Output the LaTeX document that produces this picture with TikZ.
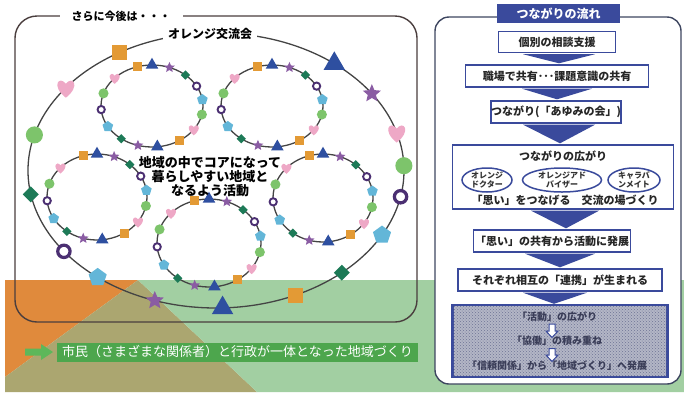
\documentclass[tikz,border=0pt]{standalone}
\usepackage{fontspec}
\setmainfont{Noto Sans CJK JP}
\usetikzlibrary{shapes.geometric,patterns,calc}

\definecolor{cOrBg}{HTML}{E08A3C}
\definecolor{cOlBg}{HTML}{ABA670}
\definecolor{cGrBg}{HTML}{A2CFA2}
\definecolor{cBan}{HTML}{4DA64D}
\definecolor{cArr}{HTML}{5DB75A}
\definecolor{cFrame}{HTML}{4A3E3E}
\definecolor{cRing}{HTML}{444444}
\definecolor{mOr}{HTML}{E39A35}
\definecolor{mBl}{HTML}{2E4FA0}
\definecolor{mPu}{HTML}{8A5CA3}
\definecolor{mDg}{HTML}{1D7A57}
\definecolor{mDp}{HTML}{4B2F72}
\definecolor{mLb}{HTML}{63B6D8}
\definecolor{mGr}{HTML}{7DC46B}
\definecolor{mPk}{HTML}{EEA8C6}
\definecolor{fBlue}{HTML}{3A4A9C}
\definecolor{fPanel}{HTML}{3E4660}
\definecolor{hatchBg}{HTML}{B3B6C6}
\definecolor{hatchDot}{HTML}{6E7494}
\definecolor{hatchTxt}{HTML}{3A3D58}

\def\ms{1}
\def\hrtname{ht}
\tikzset{
  mk-sq/.style={rectangle,fill=mOr,minimum size={8pt*\ms},inner sep=0pt},
  mk-tri/.style={regular polygon,regular polygon sides=3,fill=mBl,minimum size={13pt*\ms},inner sep=0pt},
  mk-st/.style={star,star points=5,star point ratio=2.2,fill=mPu,minimum size={10pt*\ms},inner sep=0pt},
  mk-dia/.style={diamond,fill=mDg,minimum size={8.5pt*\ms},inner sep=0pt},
  mk-ho/.style={circle,draw=mDp,line width={1.7pt*\ms},fill=white,minimum size={6.5pt*\ms},inner sep=0pt},
  mk-pen/.style={regular polygon,regular polygon sides=5,fill=mLb,minimum size={10pt*\ms},inner sep=0pt},
  mk-gc/.style={circle,fill=mGr,minimum size={9pt*\ms},inner sep=0pt},
  heart/.pic={\fill[mPk] (0,-0.3) .. controls (0.5,-0.95) and (1.15,-0.15) .. (0,0.75) .. controls (-1.15,-0.15) and (-0.5,-0.95) .. (0,-0.3);},
  ring/.style={draw=cRing,line width=1.3pt},
  flowbox/.style={draw=fBlue,line width=1.8pt,fill=white,inner sep=0pt,font=\fontsize{11}{13}\selectfont\bfseries,text=black!85},
  chev/.style={fill=fBlue},
  oval/.style={ellipse,draw=fBlue,line width=1.5pt,inner sep=0pt,align=center,font=\fontsize{8}{9.5}\selectfont\bfseries,text=black!80},
  hatchtxt/.style={font=\fontsize{10}{12}\selectfont\bfseries,text=hatchTxt,inner sep=1pt},
  hollowarrow/.style={draw=fBlue,line width=1pt,fill=white},
}

\newcommand\ringmarks[6]{%
  \foreach \kind/\ang [count=\k] in {#6}{%
    \coordinate (#1-\k) at ({#2+#4*cos(\ang)},{#3-#5*sin(\ang)});
    \edef\mytmp{\kind}%
    \ifx\mytmp\hrtname
      \pic[scale={7*\ms}] at (#1-\k) {heart};
    \else
      \edef\mydo{\noexpand\node[mk-\kind] (#1-m\k) at (#1-\k) {};}%
      \mydo
    \fi}}

\begin{document}
\begin{tikzpicture}[x=1pt,y=-1pt]
\useasboundingbox (0,0) rectangle (684,392);
% background
\fill[cOrBg] (5,280) -- (138,280) -- (5,377) -- cycle;
\fill[cOlBg] (138,280) -- (257,392) -- (5,392) -- (5,377) -- cycle;
\fill[cGrBg] (138,280) -- (684,280) -- (684,392) -- (257,392) -- cycle;

% left panel
\draw[cFrame,line width=1.4pt,rounded corners=22pt] (15,16) rectangle (417,322);
\node[fill=white,inner xsep=12pt,inner ysep=1pt,font=\fontsize{11}{13}\selectfont\bfseries] (later) at (121,16) {さらに今後は・・・};

% rings
\draw[ring] (216,170.5) ellipse [x radius=188pt, y radius=137.5pt];
\draw[ring] (152,106) ellipse [x radius=51pt, y radius=41pt];
\draw[ring] (272,106) ellipse [x radius=51pt, y radius=41pt];
\draw[ring] (97,197) ellipse [x radius=50pt, y radius=43pt];
\draw[ring] (323,198) ellipse [x radius=50pt, y radius=44pt];
\draw[ring] (209,243) ellipse [x radius=52pt, y radius=44pt];

\def\ms{1.12}
\ringmarks{ra}{152}{106}{51}{41}{sq/106,tri/90,st/70,dia/49,ho/29,pen/9,gc/-12,ht/-35,sq/-57,tri/-84,st/-106,dia/-127,pen/-150,ho/-175,gc/162,ht/137}
\ringmarks{rb}{272}{106}{51}{41}{sq/106,tri/90,st/70,dia/49,ho/29,pen/9,gc/-12,ht/-35,sq/-57,tri/-84,st/-106,dia/-127,pen/-150,ho/-175,gc/162,ht/137}
\ringmarks{rc}{97}{197}{50}{43}{sq/106,tri/90,st/70,dia/49,ho/29,pen/9,gc/-12,ht/-35,sq/-57,tri/-84,st/-106,dia/-127,pen/-150,ho/-175,gc/162,ht/137}
\ringmarks{rd}{323}{198}{50}{44}{sq/106,tri/90,st/70,dia/49,ho/29,pen/9,gc/-12,ht/-35,sq/-57,tri/-84,st/-106,dia/-127,pen/-150,ho/-175,gc/162,ht/137}
\ringmarks{re}{209}{243}{52}{44}{sq/106,tri/90,st/70,dia/49,ho/29,pen/9,gc/-12,ht/-35,sq/-57,tri/-84,st/-106,dia/-127,pen/-150,ho/-175,gc/162,ht/137}
\def\ms{1.9}
\ringmarks{rbig}{216}{170.5}{188}{137.5}{sq/121,ht/143,gc/165,dia/190,ho/216,pen/231,st/251,tri/272,sq/295,dia/312,pen/332,ho/349,gc/2,ht/16,st/34,tri/51}

\node[fill=white,inner xsep=5pt,inner ysep=1pt,font=\fontsize{12}{14}\selectfont\bfseries] (club) at (210,34) {オレンジ交流会};
\node[align=center,font=\fontsize{13}{14}\selectfont\bfseries] (core) at (210,177) {地域の中でコアになって\\暮らしやすい地域と\\なるよう活動};

% banner
\fill[cArr] (25,348.5) -- (41,348.5) -- (41,344) -- (53,352) -- (41,360) -- (41,355.5) -- (25,355.5) -- cycle;
\node[fill=cBan,text=white,minimum width=361pt,minimum height=19pt,inner sep=0pt,font=\fontsize{13}{15}\selectfont] (banner) at (237.5,352) {市民（さまざまな関係者）と行政が一体となった地域づくり};

% right panel
\draw[fPanel,line width=1.4pt,fill=white,rounded corners=14pt] (435,17) rectangle (681,384);
\node[fill=fBlue,text=white,minimum width=123pt,minimum height=19pt,inner sep=0pt,font=\fontsize{12}{14}\selectfont\bfseries] (title) at (558.5,13.5) {つながりの流れ};

\node[flowbox,minimum width=117pt,minimum height=21pt] (b1) at (557,42) {個別の相談支援};
\node[flowbox,minimum width=183pt,minimum height=22pt] (b2) at (557,76) {職場で共有･･･課題意識の共有};
\node[flowbox,minimum width=128pt,minimum height=22pt] (b3) at (556,112) {つながり(「あゆみの会」)};
\node[flowbox,minimum width=221pt,minimum height=64pt] (b4) at (563,177) {};
\node[flowbox,minimum width=157pt,minimum height=22pt] (b5) at (552,241) {「思い」の共有から活動に発展};
\node[flowbox,minimum width=204pt,minimum height=22pt] (b6) at (560,280) {それぞれ相互の「連携」が生まれる};
\node[draw=fBlue,line width=1.8pt,fill=hatchBg,minimum width=214pt,minimum height=71pt,inner sep=0pt] (b7) at (560,341) {};
\fill[pattern=crosshatch dots,pattern color=hatchDot] (b7.north west) rectangle (b7.south east);
\draw[fBlue,line width=1.8pt] (b7.north west) rectangle (b7.south east);

% chevrons
\fill[chev] ($(b1.south)+(-34,0.8)$) -- ($(b1.south)+(38,0.8)$) -- ($(b2.north)+(2,-0.8)$) -- cycle;
\fill[chev] ($(b2.south)+(-35,0.8)$) -- ($(b2.south)+(35,0.8)$) -- ($(b3.north)+(1,-0.8)$) -- cycle;
\fill[chev] ($(b3.south)+(-33,0.8)$) -- ($(b3.south)+(39,0.8)$) -- ($(b4.north)+(-3,-0.8)$) -- cycle;
\fill[chev] ($(b4.south)+(-32,0.8)$) -- ($(b4.south)+(36,0.8)$) -- ($(b5.north)+(14,-0.8)$) -- cycle;
\fill[chev] ($(b5.south)+(-27,0.8)$) -- ($(b5.south)+(43,0.8)$) -- ($(b6.north)+(0,-0.8)$) -- cycle;
\fill[chev] ($(b6.south)+(-37,0.8)$) -- ($(b6.south)+(27,0.8)$) -- ($(b7.north)+(-6,-0.8)$) -- cycle;

% inside b4
\node[font=\fontsize{11}{13}\selectfont\bfseries,text=black!85] (spread) at (563,156) {つながりの広がり};
\node[oval,minimum width=50pt,minimum height=24pt] (e1) at (487,180) {オレンジ\\ドクター};
\node[oval,minimum width=79pt,minimum height=24pt] (e2) at (562,180) {オレンジアド\\バイザー};
\node[oval,minimum width=52pt,minimum height=24pt] (e3) at (634,180) {キャラバ\\ンメイト};
\node[font=\fontsize{11}{13}\selectfont\bfseries,text=black!85] (place) at (565,200) {「思い」をつなげる　交流の場づくり};

% inside b7
\node[hatchtxt] (h1) at (557,317) {「活動」の広がり};
\node[hatchtxt] (h2) at (557,341) {「協働」の積み重ね};
\node[hatchtxt] (h3) at (557,366) {「信頼関係」から「地域づくり」へ発展};
\draw[hollowarrow] (549,324) -- (555,324) -- (555,331) -- (558,331) -- (552,337.5) -- (546,331) -- (549,331) -- cycle;
\draw[hollowarrow] (549,348.5) -- (555,348.5) -- (555,355) -- (558,355) -- (552,361.5) -- (546,355) -- (549,355) -- cycle;
\end{tikzpicture}
\end{document}
